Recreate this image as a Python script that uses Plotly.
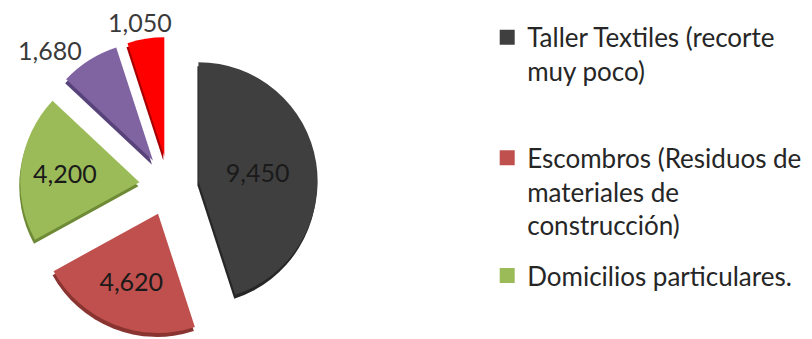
import plotly.graph_objects as go

# Waste volumes by source
values = [9450, 4620, 4200, 1680, 1050]
colors = ["#3F3F3F", "#C0504D", "#9BBB59", "#8064A2", "#FF0000"]
edge_colors = ["#262626", "#8A3431", "#6E8A36", "#57437A", "#A80000"]
pulls = [0.25, 0.25, 0.25, 0.25, 0.25]
text_positions = ["inside", "inside", "inside", "outside", "none"]

# Legend entries (first three sources)
legend_names = [
    "Taller Textiles (recorte<br>muy poco)",
    "Escombros (Residuos de<br>materiales de<br>construcción)",
    "Domicilios particulares.",
]
legend_colors = colors[:3]

W, H = 812, 339
cx, cy = 169, 186          # pie centre in pixels (from top-left)
half = 149                 # half size of the pie domain
depth = 4                  # extrusion offset for the 3D edge


def domain(dx, dy):
    x0 = (cx + dx - half) / W
    x1 = (cx + dx + half) / W
    yb = H - (cy + dy)
    return dict(x=[x0, x1], y=[max(0, (yb - half) / H), min(1, (yb + half) / H)])


label_font = dict(family="Lato", size=25, color="#1A1A1A")
outside_font = dict(family="Lato", size=25, color="#3A3A3A")

fig = go.Figure()

# darker copy underneath gives the slices a bevelled edge
fig.add_trace(go.Pie(
    values=values, sort=False, direction="clockwise", rotation=0,
    pull=pulls, marker=dict(colors=edge_colors, line=dict(width=0)),
    textinfo="none", hoverinfo="skip", showlegend=False,
    domain=domain(-1, depth),
))

fig.add_trace(go.Pie(
    values=values, sort=False, direction="clockwise", rotation=0,
    pull=pulls, marker=dict(colors=colors, line=dict(width=0)),
    texttemplate="%{value:,}", textposition=text_positions,
    insidetextorientation="horizontal",
    textfont=label_font, outsidetextfont=outside_font,
    showlegend=False,
    domain=domain(0, 0),
))

# value label for the smallest slice, set just above its tip
fig.add_annotation(
    text=f"{values[4]:,}", x=140 / W, y=1 - 22 / H,
    xref="paper", yref="paper", showarrow=False,
    xanchor="center", yanchor="middle", font=outside_font,
)

legend_tops = [0.959, 0.604, 0.256]
legend_ids = ["legend", "legend2", "legend3"]
for name, col, lid in zip(legend_names, legend_colors, legend_ids):
    fig.add_trace(go.Scatter(
        x=[None], y=[None], mode="markers", name=name,
        marker=dict(symbol="square", size=15, color=col),
        legend=lid,
    ))

legend_style = dict(
    x=0.600, xanchor="left", yanchor="top", valign="top",
    font=dict(family="Lato", size=26, color="#262626"),
    bgcolor="rgba(0,0,0,0)", itemwidth=30,
)
layout_legends = {}
for lid, top in zip(legend_ids, legend_tops):
    layout_legends[lid] = dict(legend_style, y=top)

fig.update_layout(
    width=W, height=H,
    margin=dict(l=0, r=0, t=0, b=0, autoexpand=False),
    paper_bgcolor="white", plot_bgcolor="white",
    xaxis=dict(visible=False), yaxis=dict(visible=False),
    **layout_legends,
)

fig.write_html("out.html")
